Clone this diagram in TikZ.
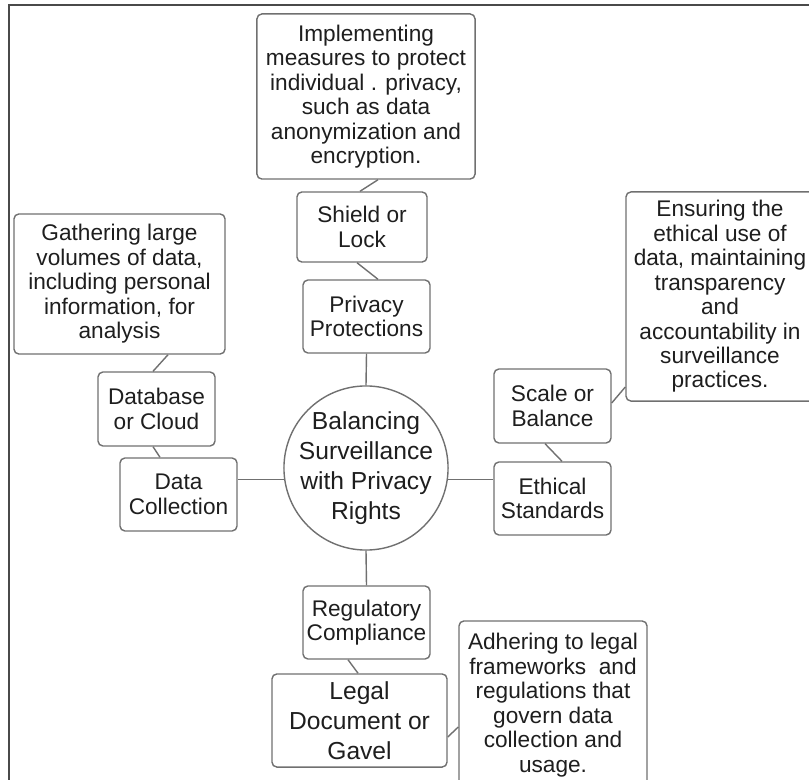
\documentclass[tikz,border=0pt]{standalone}
\usepackage{fontspec}
\setmainfont{Liberation Sans}
\usetikzlibrary{calc}
\definecolor{boxgray}{HTML}{707070}
\definecolor{textdark}{HTML}{1E1E1E}
\definecolor{framegray}{HTML}{4A4A4A}
\tikzset{
	box/.style={draw=boxgray, line width=1pt, rounded corners=3.5pt, align=center, inner sep=2pt, text=textdark, font=\fontsize{16.1}{17.4}\selectfont},
	bigbox/.style={box, font=\fontsize{17.5}{21.3}\selectfont},
	hub/.style={draw=boxgray, line width=1pt, circle, align=center, inner sep=-6pt, minimum size=116.7pt, text=textdark, font=\fontsize{17.5}{21.3}\selectfont},
	link/.style={draw=boxgray, line width=1pt}
}

\begin{document}
\begin{tikzpicture}[x=0.025cm, y=-0.025cm]
		%%%%% START %%%%%
		\useasboundingbox (0, 0) rectangle (809, 780);
		\draw[framegray, line width=1.2pt] (9, 780) -- (9, 5) -- (809, 5);
		
		\node[hub] (c) at (366, 468) {Balancing\\Surveillance\\with Privacy\\Rights};
		
		\node[box, minimum width=155.1pt, minimum height=117.4pt] (imp) at (366, 96.5) {Implementing\\measures to protect\\individual . privacy,\\such as data\\anonymization and\\encryption.};
		\node[box, minimum width=92.5pt, minimum height=49.8pt] (shield) at (362, 227) {Shield or\\Lock};
		\node[box, minimum width=90.3pt, minimum height=51.9pt] (privacy) at (366.5, 316.5) {Privacy\\Protections};
		
		\node[box, minimum width=150.1pt, minimum height=99.6pt] (gather) at (119.5, 284) {Gathering large\\volumes of data,\\including personal\\information, for\\analysis};
		\node[box, minimum width=83.2pt, minimum height=52.6pt] (dbase) at (156.5, 409) {Database\\or Cloud};
		\node[box, minimum width=83.2pt, minimum height=51.9pt] (dcoll) at (178.5, 494.5) {Data\\Collection};
		
		\node[box, minimum width=133.7pt, minimum height=148.7pt] (ensure) at (720, 296.5) {Ensuring the\\ethical use of\\data, maintaining\\transparency\\and\\accountability in\\surveillance\\practices.};
		\node[box, minimum width=83.2pt, minimum height=52.6pt] (scale) at (552.5, 406) {Scale or\\Balance};
		\node[box, minimum width=83.2pt, minimum height=51.9pt] (ethic) at (552.5, 498.5) {Ethical\\Standards};
		
		\node[box, minimum width=90.3pt, minimum height=51.9pt] (regul) at (366.5, 622.5) {Regulatory\\Compliance};
		\node[bigbox, minimum width=124.5pt, minimum height=66.2pt] (legal) at (359.5, 720.5) {Legal\\Document or\\Gavel};
		\node[box, minimum width=133.7pt, minimum height=119.5pt] (adhere) at (553, 705) {Adhering to legal\\frameworks\ \ and\\regulations that\\govern data\\collection and\\usage.};
		
		% top branch
		\draw[link] ($(imp.south)+(12, 0)$) -- ($(shield.north)+(-2, 0)$);
		\draw[link] ($(shield.south)+(-5, 0)$) -- ($(privacy.north)+(11.5, 0)$);
		\draw[link] (privacy.south) -- (c.north);
		
		% left branch
		\draw[link] ($(gather.south)+(48.5, 0)$) -- ($(dbase.north)+(-3.5, 0)$);
		\draw[link] ($(dbase.south)+(-3.5, 0)$) -- ($(dcoll.north)+(-18.5, 0)$);
		\draw[link] (c.188) -- (c.188 -| dcoll.east);
		
		% right branch
		\draw[link] (c.352) -- (c.352 -| ethic.west);
		\draw[link] ($(ethic.north)+(9.5, 0)$) -- ($(scale.south)+(-7.5, 0)$);
		\draw[link] ($(scale.east)+(0, -3)$) -- ($(ensure.west)+(0, 90.5)$);
		
		% bottom branch
		\draw[link] (c.south) -- (regul.north);
		\draw[link] ($(regul.south)+(-18.5, 0)$) -- ($(legal.north)+(-1.5, 0)$);
		\draw[link] ($(legal.east)+(0, 16.5)$) -- ($(adhere.west)+(0, 22)$);
		%%%%% END %%%%%
\end{tikzpicture}
\end{document}
